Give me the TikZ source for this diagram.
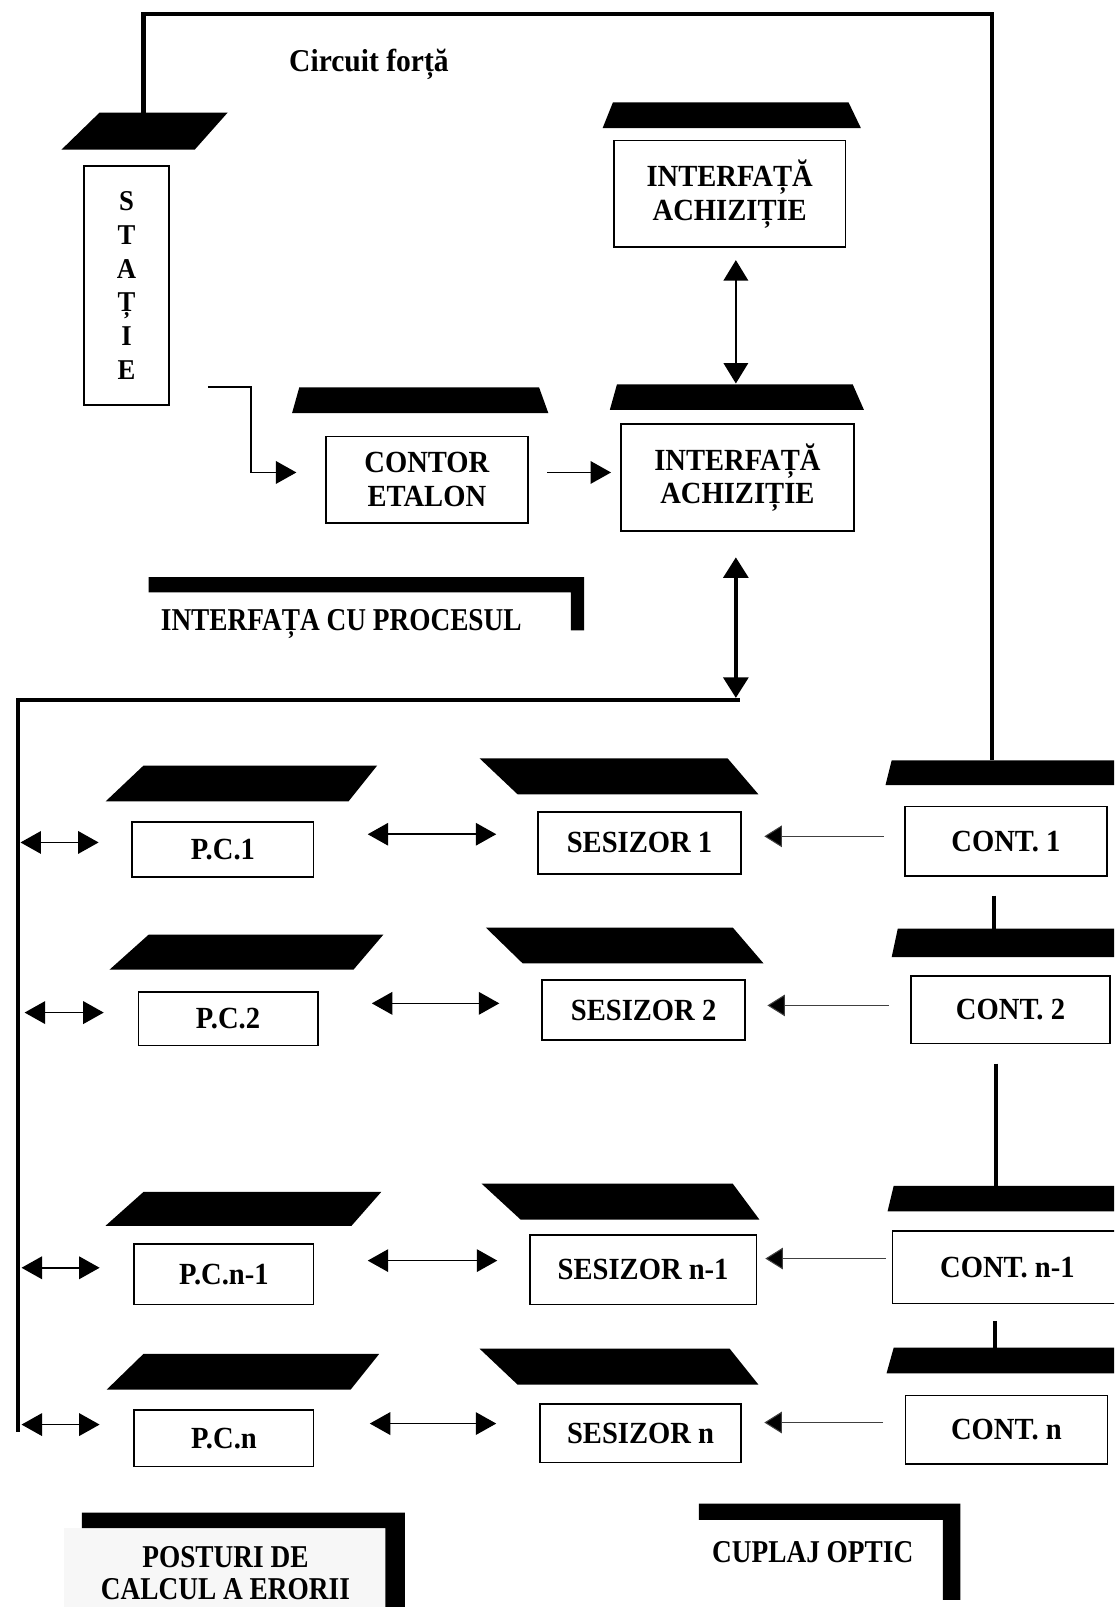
\documentclass[tikz,border=0pt]{standalone}
\usepackage{fontspec}
\setmainfont{Liberation Serif}
\newfontfamily\boxfont[FakeStretch=0.93]{Liberation Serif}
\newfontfamily\tagfont[FakeStretch=0.86]{Liberation Serif}
\usetikzlibrary{arrows.meta,calc}

\begin{document}
\begin{tikzpicture}[x=1pt,y=-1pt,
  box/.style={draw,line width=1.6pt,fill=white,inner sep=0pt,align=center,
    font=\boxfont\bfseries\fontsize{30}{33}\selectfont},
  tag/.style={inner sep=0pt,align=center,
    font=\tagfont\bfseries\fontsize{31}{31}\selectfont},
  heavy/.style={line width=4pt},
  tipA/.tip={Triangle[length=20pt,width=22pt]},
  link/.style={line width=1.6pt,{tipA}-{tipA}},
  feed/.style={line width=1.6pt,-{tipA}},
  optic/.style={line width=1pt,black!75,-{Triangle[length=17pt,width=21pt,fill=black]},
    draw=black!75},
  busarrow/.style={line width=4pt,{Triangle[length=20pt,width=24pt]}-{Triangle[length=20pt,width=24pt]}},
]
\useasboundingbox (0,0) rectangle (1087,1568);
\clip (0,0) rectangle (1087,1568);
\fill[white] (0,0) rectangle (1087,1568);

% ---------- black lids above the blocks ----------
\fill (97,110) -- (222,110) -- (190,146) -- (60,146) -- cycle;        % station
\fill (598,100) -- (828,100) -- (840,125) -- (588,125) -- cycle;      % upper interface
\fill (602,375) -- (832,375) -- (843,400) -- (595,400) -- cycle;      % lower interface
\fill (292,378) -- (526,378) -- (535,403) -- (285,403) -- cycle;      % reference meter
% computing posts
\fill (140,747) -- (368,747) -- (340,782) -- (103,782) -- cycle;
\fill (145,912) -- (374,912) -- (345,946) -- (107,946) -- cycle;
\fill (140,1163) -- (372,1163) -- (343,1196) -- (103,1196) -- cycle;
\fill (140,1321) -- (370,1321) -- (342,1356) -- (104,1356) -- cycle;
% sensors
\fill (468,740) -- (710,740) -- (740,775) -- (505,775) -- cycle;
\fill (474,905) -- (715,905) -- (745,940) -- (510,940) -- cycle;
\fill (470,1155) -- (715,1155) -- (741,1190) -- (508,1190) -- cycle;
\fill (468,1316) -- (712,1316) -- (740,1351) -- (505,1351) -- cycle;
% meters
\fill (870,742) -- (1100,742) -- (1100,766) -- (864,766) -- cycle;
\fill (876,906) -- (1100,906) -- (1100,934) -- (870,934) -- cycle;
\fill (872,1157) -- (1100,1157) -- (1100,1182) -- (866,1182) -- cycle;
\fill (872,1315) -- (1100,1315) -- (1100,1340) -- (865,1340) -- cycle;

% ---------- attachment points ----------
\coordinate (lidS) at (140,110);
\coordinate (lidC1) at (968,742);
\coordinate (lidC2) at (970,906);
\coordinate (lidC3) at (972,1157);
\coordinate (lidC4) at (971,1315);
\coordinate (busR) at (722,683);
\coordinate (busB) at (18,1397);

% ---------- blocks ----------
\node[box,minimum width=83pt,minimum height=233pt,
  font=\boxfont\bfseries\fontsize{28}{33}\selectfont] (statie) at (123.5,278.5)
  {S\\T\\A\\Ț\\I\\E};
\node[box,minimum width=226pt,minimum height=104pt] (ia1) at (712,189)
  {INTERFAȚĂ\\ACHIZIȚIE};
\node[box,minimum width=227pt,minimum height=104pt] (ia2) at (719.5,466)
  {INTERFAȚĂ\\ACHIZIȚIE};
\node[box,minimum width=197pt,minimum height=84pt] (contor) at (416.5,468)
  {CONTOR\\ETALON};

\node[box,minimum width=177pt,minimum height=54pt] (pc1) at (217.5,829) {P.C.1};
\node[box,minimum width=198pt,minimum height=61pt] (ses1) at (624,822.5) {SESIZOR 1};
\node[box,minimum width=197pt,minimum height=68pt] (cont1) at (981.5,821) {CONT. 1};

\node[box,minimum width=175pt,minimum height=52pt] (pc2) at (222.5,994) {P.C.2};
\node[box,minimum width=198pt,minimum height=59pt] (ses2) at (628,985.5) {SESIZOR 2};
\node[box,minimum width=194pt,minimum height=66pt] (cont2) at (986,985) {CONT. 2};

\node[box,minimum width=175pt,minimum height=59pt] (pc3) at (218.5,1243.5) {P.C.n-1};
\node[box,minimum width=221pt,minimum height=68pt] (ses3) at (627.5,1239) {SESIZOR n-1};
\node[box,minimum width=224pt,minimum height=71pt] (cont3) at (983,1236.5) {CONT. n-1};

\node[box,minimum width=175pt,minimum height=55pt] (pc4) at (218.5,1403.5) {P.C.n};
\node[box,minimum width=196pt,minimum height=57pt] (ses4) at (625,1398.5) {SESIZOR n};
\node[box,minimum width=197pt,minimum height=67pt] (cont4) at (982,1395) {CONT. n};

% ---------- labels ----------
\node[font=\boxfont\bfseries\fontsize{31}{33}\selectfont] (circ) at (360,63) {Circuit forță};

\fill (145,563) -- (570,563) -- (570,615) -- (557,615) -- (557,578) -- (145,578) -- cycle;
\node[tag] (lproc) at (333,609) {INTERFAȚA CU PROCESUL};

\fill[black!3] (62,1491) rectangle (376,1568);
\fill (80,1476) -- (395,1476) -- (395,1570) -- (376,1570) -- (376,1491) -- (80,1491) -- cycle;
\node[tag] (lpost) at (220,1535) {POSTURI DE\\CALCUL A ERORII};

\fill (682,1467) -- (937,1467) -- (937,1561) -- (920,1561) -- (920,1483) -- (682,1483) -- cycle;
\node[tag] (lopt) at (793,1514) {CUPLAJ OPTIC};

% ---------- power circuit ----------
\draw[heavy] (lidS) -- ++(0,-96) -| (lidC1);

% ---------- measurement chain ----------
\draw[feed] ($(statie.south east)+(37,-18)$) -- ++(42,0) |- ($(contor.west)+(-28,-7)$);
\draw[feed] ($(contor.east)+(18,-7)$) -- ($(ia2.west)+(-9,-5)$);
\draw[line width=1.6pt,{Triangle[length=20pt,width=24pt]}-{Triangle[length=20pt,width=24pt]}]
  ($(ia1.south)+(6,12)$) -- ($(ia2.north)+(-1.5,-39)$);
\draw[busarrow] ($(ia2.south)+(-1.5,25)$) -- ($(busR)+(-4,-2)$);

% ---------- bus ----------
\draw[heavy] (busR) -| (busB);

% ---------- bus to computing posts ----------
\draw[link] ($(busB |- pc1.west)+(2,-7)$) -- ($(pc1.west)+(-32,-7)$);
\draw[link] ($(busB |- pc2.west)+(6,-6)$) -- ($(pc2.west)+(-33,-6)$);
\draw[link] ($(busB |- pc3.west)+(3,-6.5)$) -- ($(pc3.west)+(-33,-6.5)$);
\draw[link] ($(busB |- pc4.west)+(3,-13.5)$) -- ($(pc4.west)+(-33,-13.5)$);

% ---------- posts to sensors ----------
\draw[link] ($(pc1.east)+(52,-15)$) -- ($(ses1.west)+(-40,-8.5)$);
\draw[link] ($(pc2.east)+(52,-15)$) -- ($(ses2.west)+(-41,-6.5)$);
\draw[link] ($(pc3.east)+(52,-13.5)$) -- ($(ses3.west)+(-31,-9)$);
\draw[link] ($(pc4.east)+(54,-14.5)$) -- ($(ses4.west)+(-42,-9.5)$);

% ---------- meters to sensors ----------
\draw[optic] ($(cont1.west)+(-20,-5)$) -- ($(ses1.east)+(22,-6.5)$);
\draw[optic] ($(cont2.west)+(-21,-4)$) -- ($(ses2.east)+(21,-4.5)$);
\draw[optic] ($(cont3.west)+(-6,-8.5)$) -- ($(ses3.east)+(8,-11)$);
\draw[optic] ($(cont4.west)+(-21,-7)$) -- ($(ses4.east)+(22,-10.5)$);

% ---------- chained meters ----------
\draw[heavy] ($(cont1.south)+(-11.5,18)$) -- (lidC2);
\draw[heavy] ($(cont2.south)+(-14,19)$) -- (lidC3);
\draw[heavy] ($(cont3.south)+(-12,16)$) -- (lidC4);
\end{tikzpicture}
\end{document}
